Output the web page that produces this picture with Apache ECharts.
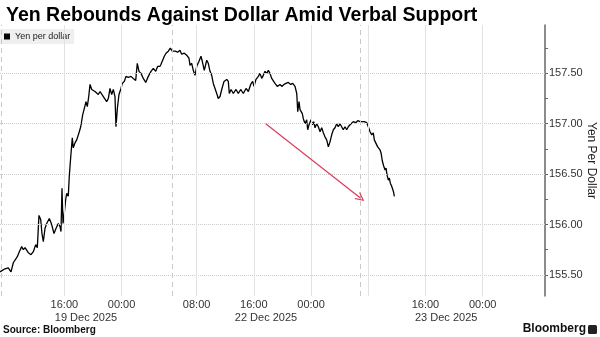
<!DOCTYPE html>
<html>
<head>
<meta charset="utf-8">
<style>
  html, body { margin: 0; padding: 0; background: #fff; }
  #chart { width: 600px; height: 337px; }
</style>
<script src="https://cdn.jsdelivr.net/npm/echarts@6/dist/echarts.min.js"></script>
</head>
<body>
<div id="chart"></div>
<script>
const titleText = 'Yen Rebounds Against Dollar Amid Verbal Support';
const seriesName = 'Yen per dollar';
const yAxisName = 'Yen Per Dollar';
const sourceText = 'Source: Bloomberg';
const brandText = 'Bloomberg';

// trading-time position (hours from the start of the window, weekend removed)
const times = [0,0.70,1.16,1.54,1.86,2.24,2.42,2.70,3.03,3.26,3.50,3.96,4.34,4.66,4.99,5.22,5.45,5.69,5.87,6.06,
  6.29,6.53,6.90,7.23,7.55,7.83,8.15,8.39,8.53,8.67,8.81,8.95,9.19,9.33,9.55,9.69,9.89,10.11,10.25,10.49,
  10.73,11.09,11.29,11.57,11.75,12.03,12.21,12.41,12.59,12.83,13.05,13.29,13.52,13.75,13.99,14.45,14.92,15.15,15.38,15.62,
  15.85,16.08,16.22,16.41,16.64,16.92,17.10,17.38,17.62,17.94,18.32,18.64,18.98,19.20,19.44,19.72,20.04,20.38,20.74,21.12,
  21.44,21.78,22.06,22.38,22.52,22.76,22.98,23.22,23.54,23.82,24.10,24.48,24.85,25.17,25.41,25.78,26.11,26.43,26.57,26.81,
  27.03,27.27,27.51,27.83,28.11,28.29,28.57,28.91,29.13,29.37,29.61,29.83,30.07,30.31,30.53,30.77,31.01,31.33,31.71,31.93,
  32.07,32.31,32.63,33.01,33.33,33.66,34.03,34.41,34.73,35.06,35.34,35.52,35.80,36.13,36.36,36.60,36.83,37.06,37.30,37.53,
  37.76,38.00,38.22,38.46,38.78,39.16,39.40,39.72,40.00,40.32,40.66,40.94,41.26,41.50,41.64,41.82,41.96,42.10,42.28,42.42,
  42.66,42.89,43.03,43.22,43.50,43.68,43.87,44.06,44.29,44.52,44.76,44.99,45.22,45.45,45.69,45.92,46.15,46.39,46.62,46.85,
  47.09,47.31,47.55,47.79,48.01,48.25,48.49,48.71,48.95,49.19,49.41,49.75,50.03,50.35,50.59,50.95,51.29,51.51,51.75,51.99,
  52.21,52.35,52.55,52.82,53.15,53.29,53.47,53.66,53.85,53.99,54.13,54.31,54.45,54.59,54.78,55.01,55.15];

const yen = [155.53,155.56,155.57,155.53,155.62,155.66,155.68,155.73,155.78,155.75,155.77,155.72,155.70,155.73,155.80,155.77,156.09,156.05,155.91,155.83,
  155.96,156.01,156.06,156.00,155.91,155.96,156.01,155.98,155.93,156.36,156.01,156.08,156.25,156.31,156.28,156.48,156.67,156.86,156.76,156.81,
  156.84,156.92,156.97,157.09,157.14,157.22,157.17,157.27,157.39,157.34,157.35,157.32,157.33,157.29,157.32,157.27,157.22,157.25,157.35,157.29,
  157.34,157.27,156.97,157.15,157.29,157.35,157.40,157.42,157.47,157.46,157.47,157.45,157.43,157.60,157.52,157.50,157.45,157.41,157.47,157.52,
  157.55,157.52,157.57,157.57,157.59,157.58,157.67,157.70,157.72,157.75,157.72,157.72,157.71,157.73,157.69,157.70,157.68,157.65,157.58,157.60,
  157.53,157.48,157.57,157.62,157.67,157.62,157.53,157.63,157.60,157.52,157.48,157.40,157.35,157.30,157.25,157.27,157.34,157.42,157.44,157.42,
  157.30,157.34,157.30,157.34,157.30,157.34,157.30,157.35,157.32,157.39,157.42,157.37,157.44,157.47,157.50,157.45,157.48,157.52,157.50,157.53,
  157.50,157.45,157.44,157.40,157.37,157.39,157.37,157.39,157.40,157.41,157.39,157.40,157.37,157.30,157.12,157.22,157.14,157.14,157.10,157.05,
  157.00,157.04,156.94,156.99,157.04,156.99,157.02,156.96,157.00,156.97,156.92,156.96,156.91,156.87,156.84,156.77,156.82,156.89,156.94,156.96,
  157.00,156.97,157.00,156.99,156.94,156.97,156.94,156.97,156.99,157.00,157.02,157.01,157.03,157.02,157.03,157.02,157.01,156.97,156.92,156.89,
  156.91,156.84,156.81,156.77,156.74,156.71,156.63,156.58,156.54,156.56,156.49,156.44,156.46,156.41,156.38,156.33,156.28];

const xMin = 0, xMax = 76.22;
const xTickHours = [9, 17, 27.5, 35.5, 43.5, 59.5, 67.5];
const xTickLabels = ['16:00', '00:00', '08:00', '16:00', '00:00', '16:00', '00:00'];
const xSolidGrid = [9, 17, 27.5, 35.5, 43.5, 51.5, 59.5, 67.5];
const xDayGrid = [0.15, 24.1, 50.45];
const dateHours = [12.03, 37.2, 62.4];
const dateLabels = ['19 Dec 2025', '22 Dec 2025', '23 Dec 2025'];

const yMin = 155.29, yMax = 157.98;
const yLabelValues = [155.5, 156.0, 156.5, 157.0, 157.5];
const yTickValues = [155.5, 155.75, 156.0, 156.25, 156.5, 156.75, 157.0, 157.25, 157.5, 157.75];

const arrowFrom = [37.16, 157.0];
const arrowTo = [50.45, 156.26];

const lineData = times.map((t, i) => [t, yen[i]]);
const xLabelMap = {}; xTickHours.forEach((h, i) => { xLabelMap[h] = xTickLabels[i]; });
const dateMap = {}; dateHours.forEach((h, i) => { dateMap[h] = dateLabels[i]; });

const gridLines = []
  .concat(yLabelValues.map(v => ({ yAxis: v, lineStyle: { color: '#cccccc', type: 'dotted', width: 1 } })))
  .concat(xSolidGrid.map(v => ({ xAxis: v, lineStyle: { color: '#e2e2e2', type: 'solid', width: 1 } })))
  .concat(xDayGrid.map(v => ({ xAxis: v, lineStyle: { color: '#c9c9c9', type: [5, 4], width: 1 } })));

const FONT = '"Liberation Sans", Arial, sans-serif';

const chart = echarts.init(document.getElementById('chart'), null, { renderer: 'canvas' });
chart.setOption({
  animation: false,
  backgroundColor: '#ffffff',
  textStyle: { fontFamily: FONT },
  title: {
    text: titleText,
    left: 1, top: 1,
    textStyle: { fontFamily: FONT, fontWeight: 'bold', fontSize: 19.5, color: '#000' }
  },
  legend: {
    data: [seriesName],
    left: 0, top: 29,
    backgroundColor: '#efefef',
    padding: [3, 4, 3, 4],
    itemWidth: 6, itemHeight: 6,
    icon: 'rect',
    selectedMode: false,
    textStyle: { fontFamily: FONT, fontSize: 9, color: '#222' }
  },
  grid: { left: 0, right: 55, top: 25, bottom: 41, containLabel: false, outerBoundsMode: 'none' },
  xAxis: [{
    type: 'value', min: xMin, max: xMax,
    axisLine: { show: false }, axisTick: { show: false }, splitLine: { show: false },
    axisLabel: {
      customValues: xTickHours,
      formatter: v => xLabelMap[v] || '',
      color: '#333', fontSize: 11, margin: 3, fontFamily: FONT
    }
  }, {
    type: 'value', min: xMin, max: xMax, position: 'bottom', offset: 13,
    axisLine: { show: false }, axisTick: { show: false }, splitLine: { show: false },
    axisLabel: {
      customValues: dateHours,
      formatter: v => dateMap[v] || '',
      color: '#333', fontSize: 11, margin: 3, fontFamily: FONT
    }
  }],
  yAxis: {
    type: 'value', position: 'right', min: yMin, max: yMax,
    name: yAxisName, nameLocation: 'middle', nameGap: 40, nameRotate: -90,
    nameMoveOverlap: false,
    nameTextStyle: { fontSize: 12, color: '#222', fontFamily: FONT },
    axisLine: { show: true, onZero: false, lineStyle: { color: '#666', width: 1.5 } },
    axisTick: { show: true, inside: false, customValues: yTickValues, length: 3, lineStyle: { color: '#666' } },
    axisLabel: {
      customValues: yLabelValues,
      formatter: v => v.toFixed(2),
      color: '#333', fontSize: 11, margin: 4, fontFamily: FONT
    },
    splitLine: { show: false }
  },
  series: [{
    name: 'grid',
    type: 'line', data: [], z: 1, silent: true,
    markLine: {
      silent: true, symbol: ['none', 'none'], label: { show: false },
      emphasis: { disabled: true }, animation: false,
      data: gridLines
    }
  }, {
    name: seriesName,
    type: 'line',
    data: lineData,
    showSymbol: false,
    symbol: 'none',
    z: 3,
    itemStyle: { color: '#000' },
    lineStyle: { color: '#000', width: 1.3 },
    emphasis: { disabled: true }
  }, {
    name: 'arrow',
    type: 'line', data: [], z: 4, silent: true,
    markLine: {
      silent: true,
      symbol: ['none', 'path://M0,10 L5,0 L10,10 L8.6,10 L5,2.8 L1.4,10 Z'],
      symbolSize: 9,
      label: { show: false },
      emphasis: { disabled: true },
      lineStyle: { color: '#dc3c5a', width: 1.2, type: 'solid' },
      data: [[{ coord: arrowFrom }, { coord: arrowTo }]]
    }
  }],
  graphic: [{
    type: 'text', left: 3, top: 325,
    style: { text: sourceText, font: 'bold 10px ' + FONT, fill: '#111' }
  }, {
    type: 'text', right: 14, top: 323,
    style: { text: brandText, font: 'bold 12px ' + FONT, fill: '#111' }
  }, {
    type: 'rect', right: 3, top: 325,
    shape: { width: 9, height: 9, r: 1.5 },
    style: { fill: '#222' }
  }]
});
</script>
</body>
</html>
